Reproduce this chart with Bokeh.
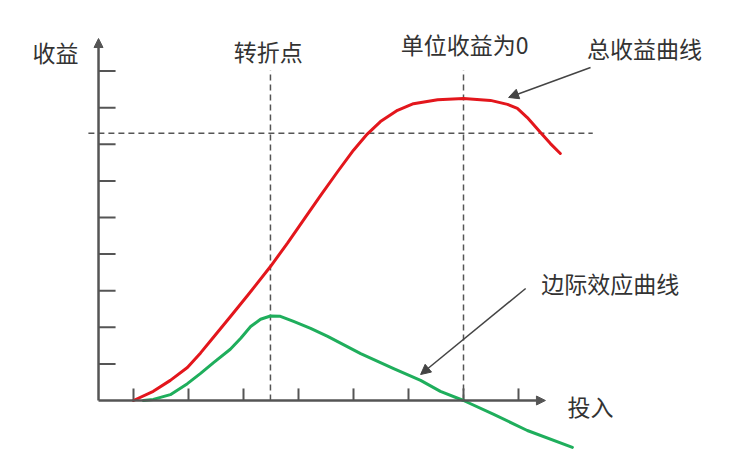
from bokeh.plotting import figure
from bokeh.models import Arrow, NormalHead, Range1d
from bokeh.core.properties import value
from bokeh.embed import file_html
from bokeh.resources import INLINE

# ---- data ----
x_ticks = [0, 1, 2, 3, 4, 5, 6, 7]
y_ticks = [1, 2, 3, 4, 5, 6, 7, 8, 9]

total_x = [0.00, 0.36, 0.67, 0.98, 1.22, 1.45, 1.76, 2.07, 2.49, 2.80, 3.09, 3.40, 3.71, 4.00,
           4.25, 4.49, 4.80, 5.09, 5.53, 6.00, 6.49, 6.80, 6.98, 7.16, 7.40, 7.58, 7.76]
total_y = [0.00, 0.25, 0.55, 0.90, 1.30, 1.72, 2.29, 2.86, 3.66, 4.30, 4.93, 5.60, 6.25, 6.84,
           7.28, 7.62, 7.93, 8.11, 8.22, 8.25, 8.20, 8.09, 7.98, 7.73, 7.32, 7.02, 6.75]

marg_x = [0.18, 0.36, 0.67, 0.98, 1.22, 1.45, 1.76, 1.95, 2.13, 2.31, 2.49, 2.67, 2.91, 3.22,
          3.53, 4.13, 4.73, 5.22, 5.58, 6.00, 6.55, 7.16, 7.98]
marg_y = [0.00, 0.03, 0.16, 0.46, 0.74, 1.03, 1.40, 1.70, 2.02, 2.22, 2.31, 2.30, 2.16, 1.97,
          1.75, 1.28, 0.87, 0.55, 0.25, 0.00, -0.38, -0.82, -1.28]

turn_x = 2.49          # 转折点
zero_x = 6.00          # 单位收益为0
ref_level = 7.30       # horizontal dashed level

axis_origin_x = -0.636
axis_x_end = 7.49
axis_y_end = 9.89

labels = ["收益", "转折点", "单位收益为0", "总收益曲线", "边际效应曲线", "投入"]
label_x = [-1.42, 2.45, 6.02, 9.29, 8.67, 8.31]
label_y = [9.51, 9.56, 9.75, 9.62, 3.22, -0.14]

# annotation arrows: (tail_x, tail_y, head_x, head_y)
ann_total = (8.31, 9.10, 6.82, 8.28)
ann_marg = (7.13, 3.06, 5.22, 0.71)

# ---- figure ----
W, H = 738, 454
px_per_x = 55.0
px_per_y = 36.6
x0 = -133 / px_per_x
y0 = -(H - 400) / px_per_y
p = figure(width=W, height=H, output_backend="svg", toolbar_location=None,
           x_range=Range1d(x0, x0 + W / px_per_x), y_range=Range1d(y0, y0 + H / px_per_y),
           min_border=0, outline_line_color=None, background_fill_color="white",
           border_fill_color="white")
p.xaxis.visible = False
p.yaxis.visible = False
p.grid.visible = False

axis_col = "#555555"
dash_col = "#555555"

# dashed reference lines
p.line([-0.82, 8.35], [ref_level, ref_level], line_color=dash_col, line_width=1.5, line_dash="6 4")
p.line([turn_x, turn_x], [0, 9.02], line_color=dash_col, line_width=1.5, line_dash="6 4")
p.line([zero_x, zero_x], [0, 9.02], line_color=dash_col, line_width=1.5, line_dash="6 4")

# axes
p.add_layout(Arrow(end=NormalHead(size=9, fill_color=axis_col, line_color=axis_col),
                   x_start=axis_origin_x, y_start=0, x_end=axis_origin_x, y_end=axis_y_end,
                   line_color=axis_col, line_width=2.5))
p.add_layout(Arrow(end=NormalHead(size=9, fill_color=axis_col, line_color=axis_col),
                   x_start=axis_origin_x, y_start=0, x_end=axis_x_end, y_end=0,
                   line_color=axis_col, line_width=2.5))

# ticks
p.segment(x0=x_ticks, x1=x_ticks, y0=[0] * len(x_ticks), y1=[0.33] * len(x_ticks),
          line_color=axis_col, line_width=2)
p.segment(x0=[axis_origin_x] * len(y_ticks), x1=[axis_origin_x + 0.31] * len(y_ticks),
          y0=y_ticks, y1=y_ticks, line_color=axis_col, line_width=2)

# curves
p.line(total_x, total_y, line_color="#e3161c", line_width=3, line_join="round", line_cap="round")
p.line(marg_x, marg_y, line_color="#1fae5c", line_width=3, line_join="round", line_cap="round")

# annotation arrows
for tx, ty, hx, hy in (ann_total, ann_marg):
    p.add_layout(Arrow(end=NormalHead(size=10, fill_color="#444444", line_color="#444444"),
                       x_start=tx, y_start=ty, x_end=hx, y_end=hy,
                       line_color="#444444", line_width=1.5))

# texts
p.text(x=label_x, y=label_y, text=labels, text_font=value("Noto Sans CJK SC"),
       text_font_size="23px", text_color="#333333", text_align="center",
       text_baseline="middle")

open("out.html", "w").write(file_html(p, INLINE))
